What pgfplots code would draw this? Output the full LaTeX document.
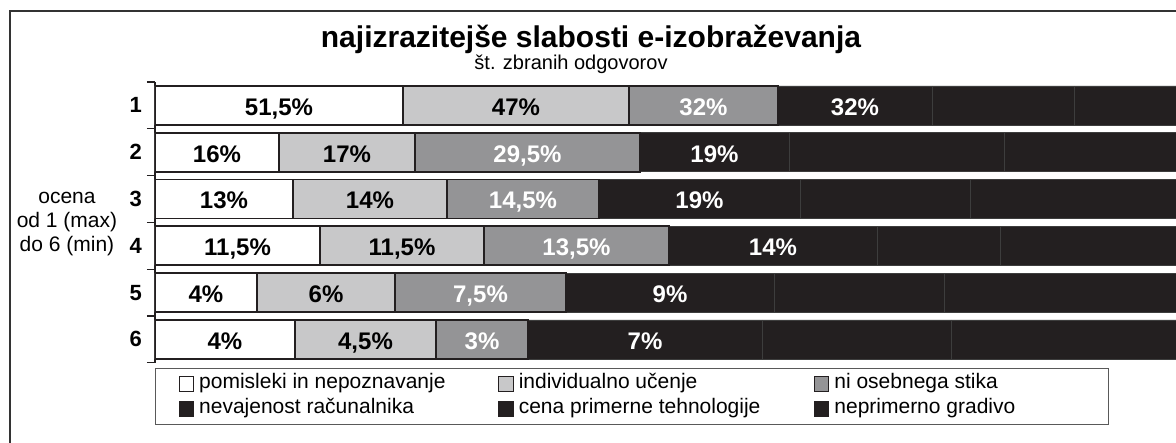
\documentclass[border=0pt]{standalone}
\usepackage{fontspec}
\setmainfont{Liberation Sans}
\usepackage{pgfplots}
\usepackage{pgfplotstable}
\pgfplotsset{compat=1.18}
\definecolor{outl}{HTML}{231F20}
\definecolor{lgray}{HTML}{C8C8C9}
\definecolor{mgray}{HTML}{949496}
\definecolor{blk}{HTML}{231F20}

% widths of the segments (as drawn) and the printed shares in %
\pgfplotstableread{
row w1  w2  w3  w4  w5  w6  p1   p2   p3   p4
1   248 226 149 154 142 300 51.5 47   32   32
2   124 136 225 149 215 300 16   17   29.5 19
3   138 154 152 201 170 300 13   14   14.5 19
4   165 164 185 208 123 300 11.5 11.5 13.5 14
5   102 138 171 208 170 300 4    6    7.5  9
6   140 141 92  234 189 300 4    4.5  3    7
}\data

\pgfplotsset{
  seglabel/.style={
    nodes near coords={\pgfmathprintnumber[assume math mode=true,use comma]{\pgfplotspointmeta}\%},
    point meta=explicit,
    every node near coord/.append style={anchor=center, text height=8.6pt, text depth=0pt,
      yshift=-0.6pt, font=\fontsize{12}{14}\selectfont\bfseries},
  },
  sqlegend/.style={legend image code/.code={\draw[##1,draw=outl,line width=0.6pt] (0pt,-3.6pt) rectangle (7.2pt,3.6pt);}},
}

\begin{document}
\begin{tikzpicture}
\path[use as bounding box, clip] (-77.5pt,41pt) rectangle (510.5pt,-180.5pt);
\draw[line width=1.3pt, draw=black!80] (-72.5pt,35.5pt) rectangle (540pt,-200pt);
\node[font=\fontsize{15}{17}\selectfont\bfseries] at (218pt,21.5pt) {najizrazitejše slabosti e-izobraževanja};
\node[font=\fontsize{10}{12}\selectfont] at (208pt,9pt) {št. zbranih odgovorov};
\begin{axis}[
  at={(0pt,0pt)}, anchor=north west,
  x=0.5pt, y=23.4pt,
  xmin=0, xmax=1021, ymin=0.5, ymax=6.5,
  y dir=reverse,
  xbar stacked, bar width=19.5pt,
  axis x line=none, axis y line*=left,
  axis line style={line width=1pt, draw=outl},
  ytick={1,2,3,4,5,6}, yticklabels={1,2,3,4,5,6},
  major tick length=0pt,
  extra y ticks={0.5,1.5,2.5,3.5,4.5,5.5,6.5}, extra y tick labels={},
  extra y tick style={major tick length=4pt, tick align=outside, tick style={line width=0.6pt, draw=outl}},
  yticklabel style={font=\fontsize{11}{13}\selectfont\bfseries, xshift=-3pt},
  ylabel={ocena\\od 1 (max)\\do 6 (min)},
  every axis y label/.style={at={(axis description cs:0,0.5)}, anchor=center, xshift=-44pt, yshift=-1pt,
     align=center, font=\fontsize{10.5}{12}\selectfont},
  legend columns=3,
  legend cell align=left,
  legend style={at={(0,0)}, anchor=north west, yshift=-2.5pt, draw=black!65, line width=0.6pt,
     inner xsep=11.5pt, inner ysep=2.75pt, column sep=0pt, row sep=2.5pt,
     nodes={inner sep=0pt, text height=7.5pt, text depth=2.5pt},
     font=\fontsize{10.5}{12}\selectfont},
  sqlegend,
]
\addplot[fill=white, draw=outl, line width=0.9pt, sqlegend, seglabel,
  every node near coord/.append style={text=black}]
  table[x=w1, y=row, meta=p1] {\data};
\addlegendentry{\makebox[152pt][l]{\hspace{2.5pt}pomisleki in nepoznavanje}}
\addplot[fill=lgray, draw=outl, line width=0.9pt, sqlegend, seglabel,
  every node near coord/.append style={text=black}]
  table[x=w2, y=row, meta=p2] {\data};
\addlegendentry{\makebox[150pt][l]{\hspace{2.5pt}individualno učenje}}
\addplot[fill=mgray, draw=outl, line width=0.9pt, sqlegend, seglabel,
  every node near coord/.append style={text=white}]
  table[x=w3, y=row, meta=p3] {\data};
\addlegendentry{\makebox[128pt][l]{\hspace{2.5pt}ni osebnega stika}}
\addplot[fill=blk, draw=black!76, line width=0.25pt, sqlegend, seglabel,
  every node near coord/.append style={text=white}]
  table[x=w4, y=row, meta=p4] {\data};
\addlegendentry{\makebox[152pt][l]{\hspace{2.5pt}nevajenost računalnika}}
\addplot[fill=blk, draw=black!76, line width=0.25pt, sqlegend]
  table[x=w5, y=row] {\data};
\addlegendentry{\makebox[150pt][l]{\hspace{2.5pt}cena primerne tehnologije}}
\addplot[fill=blk, draw=black!76, line width=0.25pt, sqlegend]
  table[x=w6, y=row] {\data};
\addlegendentry{\makebox[128pt][l]{\hspace{2.5pt}neprimerno gradivo}}
\end{axis}
\end{tikzpicture}
\end{document}
